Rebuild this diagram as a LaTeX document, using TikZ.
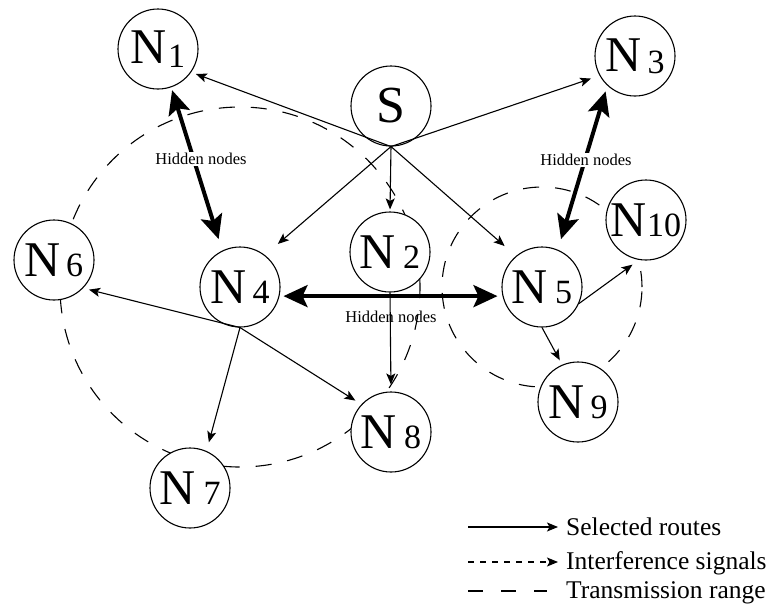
\documentclass[tikz,border=0pt]{standalone}
\usepackage{fontspec}
\setmainfont{Liberation Serif}
\usetikzlibrary{arrows.meta}
\newcommand{\nlab}[2]{{\fontsize{50}{50}\selectfont N}\kern#1{\fontsize{34}{34}\selectfont #2}}
\begin{document}
\begin{tikzpicture}[x=1pt,y=-1pt,
  nd/.style={circle,draw,line width=1.1pt,fill=white,minimum size=80pt,inner sep=0pt},
  route/.style={line width=1.1pt,-{Stealth[length=11pt,width=9pt,inset=2.5pt]}},
  hid/.style={line width=4pt,{Stealth[length=24pt,width=22pt,inset=5pt]}-{Stealth[length=24pt,width=22pt,inset=5pt]}},
  trange/.style={line width=1.1pt,dash pattern=on 16pt off 16pt},
  intf/.style={line width=1.1pt,dash pattern=on 6pt off 6pt,-{Stealth[length=11pt,width=9pt,inset=2.5pt]}},
  hlab/.style={font=\fontsize{16.5}{16.5}\selectfont,inner sep=1.5pt},
  leg/.style={font=\fontsize{25.5}{25.5}\selectfont,anchor=base west,inner sep=0pt}]
\useasboundingbox (0,0) rectangle (780,606);

% transmission ranges
\draw[trange] (240,287) circle[radius=180pt];
\draw[trange] (542,287) circle[radius=100pt];

% nodes
\node[nd] (S) at (391,106) {\fontsize{52}{52}\selectfont S};
\node[nd] (N1) at (158,49) {\nlab{1pt}{\raisebox{-4pt}{1}}};
\node[nd] (N2) at (390,252) {\nlab{7pt}{2}};
\node[nd] (N3) at (635,56) {\nlab{6pt}{\raisebox{-2pt}{3}}};
\node[nd] (N4) at (240,287) {\nlab{6pt}{4}};
\node[nd] (N5) at (542,287) {\nlab{7pt}{5}};
\node[nd] (N6) at (54,260) {\nlab{5pt}{6}};
\node[nd] (N7) at (190,488) {\nlab{8pt}{7}};
\node[nd] (N8) at (391,432) {\nlab{7pt}{8}};
\node[nd] (N9) at (578,402) {\nlab{6pt}{9}};
\node[nd] (N10) at (646,220) {\nlab{0pt}{10}};

% selected routes
\draw[route,shorten >=5pt] (S.south) -- (N1.-35);
\draw[route,shorten >=9pt] (S.south) -- (N3.209);
\draw[route,shorten >=17pt] (S.south) -- (N4.52);
\draw[route,shorten >=2pt] (S.south) -- (N2.north);
\draw[route,shorten >=15pt] (S.south) -- (N5.130);
\draw[route,shorten >=6pt] (N4.south) -- (N6.-44);
\draw[route,shorten >=9pt] (N4.south) -- (N7.66);
\draw[route,shorten >=7pt] (N4.south) -- (N8.137);
\draw[route,shorten >=7pt] (N2.south) -- (N8.north);
\draw[route,shorten >=8pt] (N5.-24) -- (N10.260);
\draw[route,shorten >=5pt] (N5.south) -- (N9.113);

% hidden node pairs
\draw[hid,shorten <=3pt,shorten >=12pt] (N1.-71) -- (N4.116);
\draw[hid,shorten <=6pt,shorten >=11pt] (N3.227) -- (N5.67);
\draw[hid,shorten <=4pt,shorten >=5pt] (N4.-13) -- (N5.193);
\node[hlab,fill=white] (h1) at (201,159) {Hidden nodes};
\node[hlab,fill=white] (h2) at (586,160) {Hidden nodes};
\node[hlab] (h3) at (391,317) {Hidden nodes};

% legend
\coordinate (l1a) at (468,527); \coordinate (l1b) at (558,527);
\draw[route] (l1a) -- (l1b);
\node[leg] (t1) at (566,535) {Selected routes};
\coordinate (l2a) at (468,562); \coordinate (l2b) at (558,562);
\draw[intf] (l2a) -- (l2b);
\node[leg] (t2) at (566,569) {Interference signals};
\coordinate (l3a) at (468,591); \coordinate (l3b) at (547,591);
\draw[trange,dash pattern=on 15pt off 18pt] (l3a) -- (l3b);
\node[leg] (t3) at (566,598) {Transmission range};
\end{tikzpicture}
\end{document}
